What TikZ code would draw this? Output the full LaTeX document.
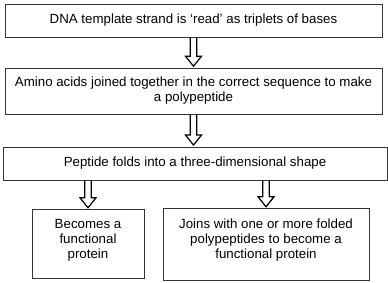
\documentclass[tikz,border=0pt]{standalone}
\usepackage{fontspec}
\setmainfont{Liberation Sans}
\usetikzlibrary{calc}
\tikzset{
  box/.style={draw=black!80, line width=0.9pt, inner sep=0pt},
  lbl/.style={align=center, font=\fontsize{13.3}{15}\selectfont, inner sep=0pt, text=black},
  arrowline/.style={draw=black, line width=1.2pt, line join=miter}
}
\newcommand\hollowarrow[2]{%
  \draw[arrowline] let \p1=(#1), \p2=(#2) in
    (\x1-3.3pt,\y1) -- (\x1-3.3pt,\y2+10pt) -- (\x1-8pt,\y2+10pt) -- (\x1,\y2)
    -- (\x1+8pt,\y2+10pt) -- (\x1+3.3pt,\y2+10pt) -- (\x1+3.3pt,\y1);}
\begin{document}
\begin{tikzpicture}[x=1pt,y=1pt]
\useasboundingbox (0,0) rectangle (388,282);
\node[box, minimum width=377pt, minimum height=33pt] (b1) at (193.5,261.5) {};
\node[lbl] (t1) at (b1.center) {DNA template strand is ‘read’ as triplets of bases};
\node[box, minimum width=377pt, minimum height=46pt] (b2) at (193.5,191) {};
\node[lbl] (t2) at (b2.center) {Amino acids joined together in the correct sequence to make\\a polypeptide};
\node[box, minimum width=384pt, minimum height=33pt] (b3) at (195,118.5) {};
\node[lbl] (t3) at (b3.center) {Peptide folds into a three-dimensional shape};
\node[box, minimum width=112pt, minimum height=69pt] (b4) at (88,38.5) {};
\node[lbl] (t4) at ([yshift=3pt]b4.center) {Becomes a\\functional\\protein};
\node[box, minimum width=206pt, minimum height=72pt] (b5) at (266,38) {};
\node[lbl] (t5) at ([yshift=4pt]b5.center) {Joins with one or more folded\\polypeptides to become a\\functional protein};
\hollowarrow{b1.south}{[yshift=1.3pt]b2.north}
\hollowarrow{b2.south}{[yshift=1.5pt]b3.north}
\hollowarrow{b3.south -| b4.north}{[yshift=0.8pt]b4.north}
\hollowarrow{b3.south -| b5.north}{[yshift=0.8pt]b5.north}
\end{tikzpicture}
\end{document}
